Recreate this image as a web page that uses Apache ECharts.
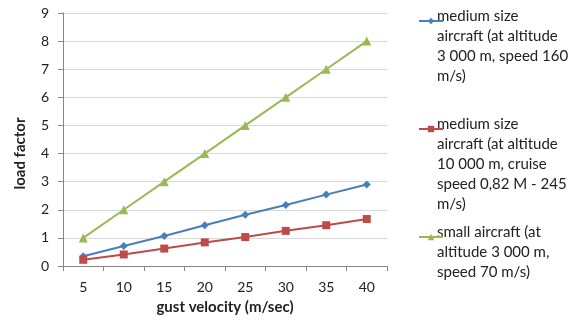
<!DOCTYPE html>
<html>
<head>
<meta charset="utf-8">
<script src="https://cdn.jsdelivr.net/npm/echarts@6/dist/echarts.min.js"></script>
<style>
  html, body { margin: 0; padding: 0; background: #fff; }
  #chart { width: 572px; height: 320px; }
</style>
</head>
<body>
<div id="chart"></div>
<script>
// data
const gustVelocity = ['5', '10', '15', '20', '25', '30', '35', '40'];
const medium3000 = [0.35, 0.71, 1.07, 1.45, 1.82, 2.17, 2.54, 2.9];
const medium10000 = [0.22, 0.41, 0.62, 0.84, 1.03, 1.25, 1.45, 1.67];
const small3000 = [1, 2, 3, 4, 5, 6, 7, 8];
const seriesNames = [
  'medium size aircraft (at altitude 3 000 m, speed 160 m/s)',
  'medium size aircraft (at altitude 10 000 m, cruise speed 0,82 M - 245 m/s)',
  'small aircraft (at altitude 3 000 m, speed 70 m/s)'
];
const legendLines = [
  ['medium size', 'aircraft (at altitude', '3 000 m, speed 160', 'm/s)'],
  ['medium size', 'aircraft (at altitude', '10 000 m, cruise', 'speed 0,82 M - 245', 'm/s)'],
  ['small aircraft (at', 'altitude 3 000 m,', 'speed 70 m/s)']
];

const FONT = 'Lato, "Open Sans", sans-serif';
const colors = ['#4a7ebb', '#be4b48', '#98b954'];
const iconTop = [12, 120, 228];
const textTop = [6, 114, 222];

const chart = echarts.init(document.getElementById('chart'));

// one legend per entry so the icon sits on the first text line
const legends = seriesNames.map((n, i) => ({
  data: [n],
  left: 413,
  top: iconTop[i],
  itemWidth: 24,
  itemHeight: 8,
  formatter: () => '',
  selectedMode: false
}));

const labelTexts = legendLines.map((lines, i) => ({
  type: 'text',
  left: 437,
  top: textTop[i],
  style: {
    text: lines.join('\n'),
    font: '15px ' + FONT,
    lineHeight: 20,
    fill: '#222'
  }
}));

chart.setOption({
  animation: false,
  textStyle: { fontFamily: FONT },
  grid: { left: 63, right: 185, top: 13, bottom: 53 },
  legend: legends,
  graphic: labelTexts,
  xAxis: {
    type: 'category',
    data: gustVelocity,
    boundaryGap: true,
    name: 'gust velocity (m/sec)',
    nameLocation: 'middle',
    nameGap: 34,
    nameTextStyle: { fontSize: 15, fontWeight: 'bold', color: '#222' },
    axisLine: { lineStyle: { color: '#868686' } },
    axisTick: { show: true, length: 5, alignWithLabel: false, lineStyle: { color: '#868686' } },
    axisLabel: { fontSize: 14, color: '#222', margin: 14 }
  },
  yAxis: {
    type: 'value',
    min: 0,
    max: 9,
    interval: 1,
    name: 'load factor',
    nameLocation: 'middle',
    nameGap: 35,
    nameTextStyle: { fontSize: 15, fontWeight: 'bold', color: '#222', padding: [0, 28, 0, 0] },
    axisLine: { show: true, lineStyle: { color: '#868686' } },
    axisTick: { show: true, length: 5, lineStyle: { color: '#868686' } },
    axisLabel: { fontSize: 14, color: '#222', margin: 14 },
    splitLine: { lineStyle: { color: '#d9d9d9' } }
  },
  series: [
    {
      name: seriesNames[0], type: 'line', data: medium3000,
      symbol: 'diamond', symbolSize: 8,
      itemStyle: { color: colors[0] }, lineStyle: { width: 2, color: colors[0] }
    },
    {
      name: seriesNames[1], type: 'line', data: medium10000,
      symbol: 'rect', symbolSize: 8,
      itemStyle: { color: colors[1] }, lineStyle: { width: 2, color: colors[1] }
    },
    {
      name: seriesNames[2], type: 'line', data: small3000,
      symbol: 'triangle', symbolSize: 9,
      itemStyle: { color: colors[2] }, lineStyle: { width: 2, color: colors[2] }
    }
  ]
});
</script>
</body>
</html>
